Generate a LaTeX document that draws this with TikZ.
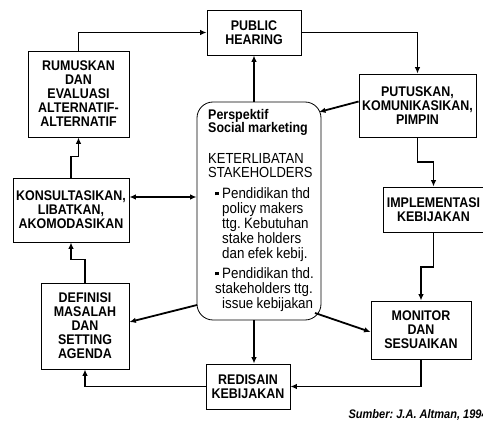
\documentclass[tikz,border=0pt]{standalone}
\usepackage{fontspec}
\setmainfont{Liberation Sans}[FakeStretch=0.89]
\usepackage{tikz}
\usetikzlibrary{arrows.meta}
\usetikzlibrary{shadows}
\frenchspacing
\newcommand\sqitem[1][5pt]{\par\vspace{#1}\leftskip=14pt\hspace*{-14pt}%
  \makebox[14pt][l]{\hspace{7pt}\rule[3pt]{3.5pt}{3.5pt}}}
\tikzset{%
  >={Latex[length=6.5pt,width=5.5pt]},
  stage/.style={draw,line width=0.8pt,fill=white,align=center,inner sep=1pt,
    font=\fontsize{14}{14}\selectfont\bfseries,
    drop shadow={shadow xshift=1.2pt,shadow yshift=-1.2pt,fill=black!45,opacity=1}},
  persp/.style={draw,line width=0.8pt,rounded corners=16pt,
    minimum width=124pt,minimum height=218pt},
  flow/.style={->,line width=1.8pt}
}

\begin{document}
\begin{tikzpicture}[x=1pt,y=-1pt]
\useasboundingbox (0,0) rectangle (483,425);

\node[stage,minimum width=94pt,minimum height=45pt] (hear) at (254,32.5) {PUBLIC\\HEARING};
\node[stage,minimum width=101pt,minimum height=86pt] (rumus) at (78.5,94) {RUMUSKAN\\DAN\\EVALUASI\\ALTERNATIF-\\ALTERNATIF};
\node[stage,minimum width=117pt,minimum height=63pt] (putus) at (417.5,105.5) {PUTUSKAN,\\KOMUNIKASIKAN,\\PIMPIN};
\node[stage,minimum width=116pt,minimum height=64pt] (konsul) at (71,210) {KONSULTASIKAN,\\LIBATKAN,\\AKOMODASIKAN};
\node[stage,minimum width=100pt,minimum height=45pt] (impl) at (433.5,209.5) {IMPLEMENTASI\\KEBIJAKAN};
\node[stage,minimum width=88pt,minimum height=86pt] (defin) at (85,326) {DEFINISI\\MASALAH\\DAN\\SETTING\\AGENDA};
\node[stage,minimum width=100pt,minimum height=58pt] (mon) at (421,330) {MONITOR\\DAN\\SESUAIKAN};
\node[stage,minimum width=84pt,minimum height=45pt] (redis) at (248,386.5) {REDISAIN\\KEBIJAKAN};

% social marketing box
\node[persp] (cbox) at (259,211) {};
\node[anchor=north west,inner sep=0pt,text width=120pt,align=left] (ctext) at (208,109) {%
  \lineskiplimit=-20pt
  \fontsize{14}{13.5}\selectfont\bfseries Perspektif\\Social marketing\par
  \vspace{17pt}\mdseries\fontsize{14.6}{13.8}\selectfont KETERLIBATAN\\STAKEHOLDERS\par
  \fontsize{15}{15}\selectfont
  \sqitem[6pt]Pendidikan thd\\policy makers\\ttg. Kebutuhan\\stake holders\\dan efek kebij.\par
  \sqitem Pendidikan thd.\\\hspace*{-7pt}stakeholders ttg.\\issue kebijakan\par};
\coordinate (pin) at (319,112);
\coordinate (pdef) at (197,305);
\coordinate (pmon) at (315,313);

\draw[flow] (rumus.north) |- (hear.west);
\draw[flow] (hear.east) -| (putus.north);
\draw[flow] (putus.south) -- ++(0,25) -| (impl.north);
\draw[flow] (impl.south) -- ++(0,35) -| (mon.north);
\draw[flow] (mon.south) |- (redis.east);
\draw[flow] (redis.west) -| (defin.south);
\draw[flow] (defin.north) -- ++(0,-23) -| (konsul.south);
\draw[flow] (konsul.north) -- ++(0,-21) -| (rumus.south);
\draw[flow,<->] ([yshift=13pt]konsul.east) -- ([yshift=13pt]konsul.east -| cbox.west);
\draw[flow] (cbox.north -| hear.south) -- (hear.south);
\draw[flow] (cbox.south -| hear.south) -- (redis.north -| hear.south);
\draw[flow] ([yshift=4pt]putus.west) -- (pin);
\draw[flow] (pdef) -- ([yshift=4pt]defin.east);
\draw[flow] (pmon) -- ([yshift=-2pt]mon.west);

\node[anchor=base west,font=\fontsize{12.4}{14}\selectfont\bfseries\itshape] (src) at (345,419) {Sumber: J.A. Altman, 1994}; %source
\end{tikzpicture}
\end{document}
